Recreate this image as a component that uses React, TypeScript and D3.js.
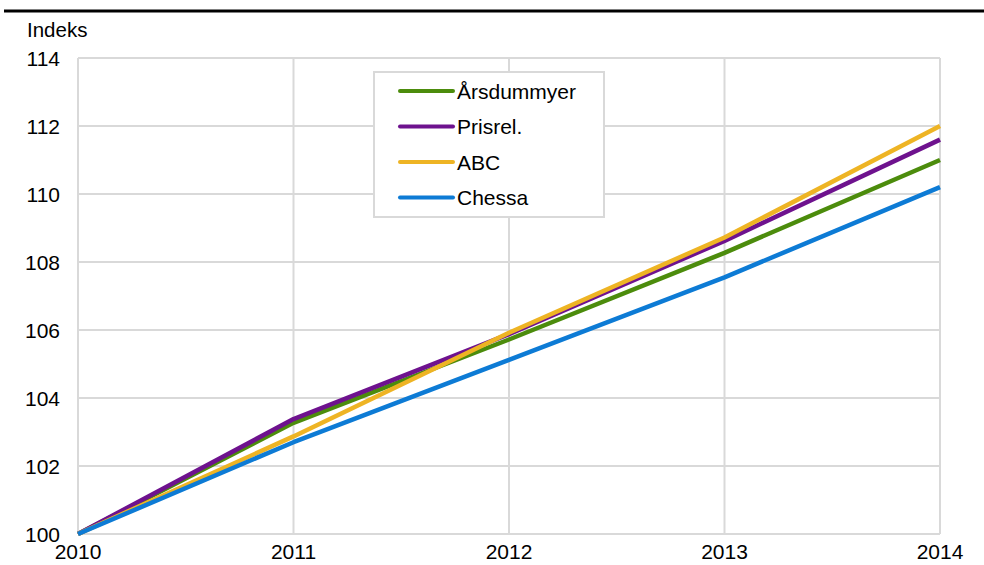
import React from "react";
import * as d3 from "d3";

const years = [2010, 2011, 2012, 2013, 2014];
const yTicks = [100, 102, 104, 106, 108, 110, 112, 114];
const seriesNames = ["Årsdummyer", "Prisrel.", "ABC", "Chessa"];
const seriesColors = ["#4C8C0C", "#6E128E", "#EEB424", "#0D7BD5"];
const arsdummyer = [100, 103.27, 105.72, 108.27, 111.0];
const prisrel = [100, 103.38, 105.88, 108.62, 111.6];
const abc = [100, 102.87, 105.92, 108.72, 112.0];
const chessa = [100, 102.7, 105.12, 107.55, 110.2];
const seriesValues = [arsdummyer, prisrel, abc, chessa];

export default function App() {
  const W = 984, H = 565;
  const x = d3.scaleLinear().domain([2010, 2014]).range([78, 940]);
  const y = d3.scaleLinear().domain([100, 114]).range([534, 58]);
  const line = d3
    .line<number>()
    .x((_, i) => x(years[i]))
    .y((d) => y(d));
  const font = "'Liberation Sans', Arial, sans-serif";
  const grid = "#d9d9d9";
  const fs = 21;
  return (
    <svg
      width={W}
      height={H}
      style={{ position: "absolute", left: 0, top: 0, background: "#fff" }}
      fontFamily={font}
    >
      <rect x={0} y={0} width={W} height={H} fill="#fff" />
      <rect x={4} y={9.5} width={980} height={3} fill="#000" />
      <text x={27} y={37} fontSize={20.5} fill="#000">Indeks</text>
      {yTicks.map((t) => (
        <g key={t}>
          <line x1={78} x2={940} y1={y(t)} y2={y(t)} stroke={grid} strokeWidth={2} />
          <text x={60} y={y(t) + 7.5} fontSize={fs} textAnchor="end" fill="#000">
            {t}
          </text>
        </g>
      ))}
      {years.map((yr) => (
        <g key={yr}>
          <line x1={x(yr)} x2={x(yr)} y1={58} y2={534} stroke={grid} strokeWidth={2} />
          <text x={x(yr)} y={558.5} fontSize={fs} textAnchor="middle" fill="#000">
            {yr}
          </text>
        </g>
      ))}
      <rect x={374} y={72} width={230} height={145} fill="#fff" stroke={grid} strokeWidth={2} />
      {seriesNames.map((n, i) => {
        const ly = 91 + i * 35.5;
        return (
          <g key={n}>
            <line x1={400} x2={453} y1={ly} y2={ly} stroke={seriesColors[i]} strokeWidth={4} strokeLinecap="round" />
            <text x={457} y={ly + 7.5} fontSize={fs} fill="#000">{n}</text>
          </g>
        );
      })}
      {seriesValues.map((vals, i) => (
        <path
          key={i}
          d={line(vals) || ""}
          fill="none"
          stroke={seriesColors[i]}
          strokeWidth={4.5}
          strokeLinejoin="round"
        />
      ))}
    </svg>
  );
}
